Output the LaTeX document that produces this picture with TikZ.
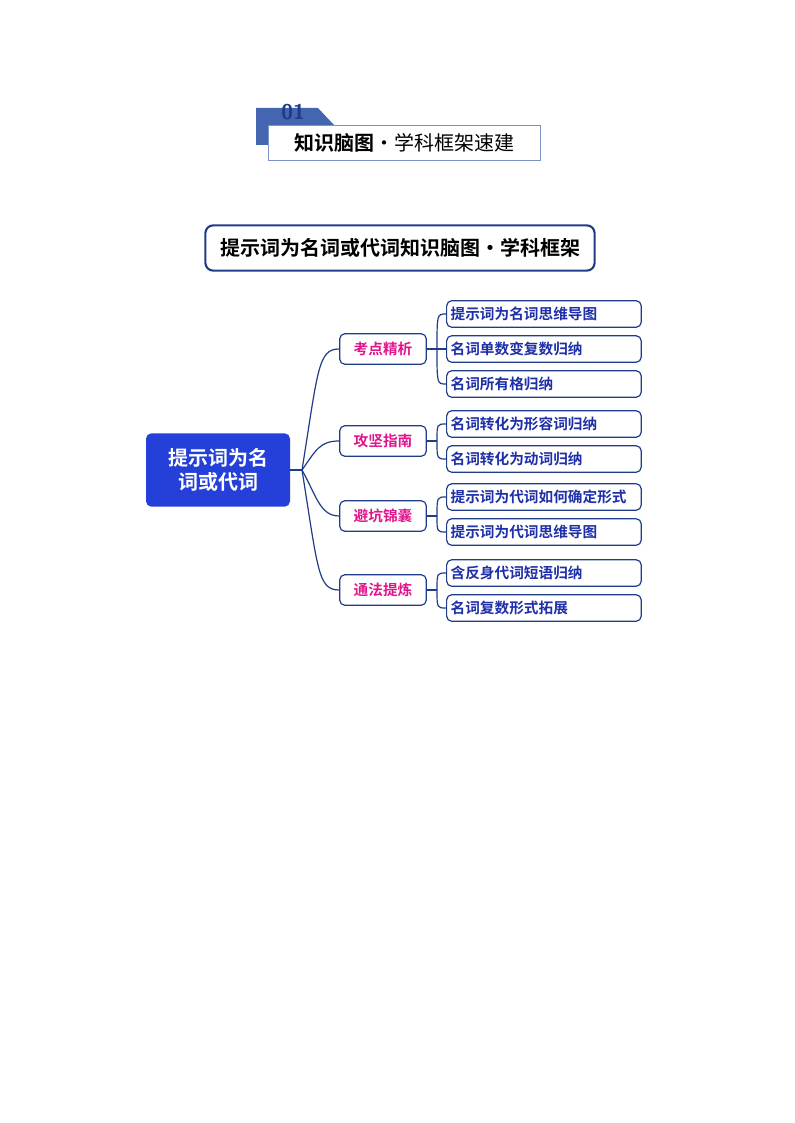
\documentclass[tikz,border=0pt]{standalone}
\usepackage{fontspec}
\setmainfont{Noto Sans CJK SC}
\newfontfamily\cjkbold{Noto Sans CJK SC Bold}
\definecolor{navy}{HTML}{1F3C88}
\definecolor{rootblue}{HTML}{2440D8}
\definecolor{leafblue}{HTML}{1E2FA8}
\definecolor{tabblue}{HTML}{4466B0}
\definecolor{pinkish}{HTML}{E0158C}
\begin{document}
\begin{tikzpicture}[x=0.75pt,y=-0.75pt,
	root/.style={fill=rootblue, text=white, rounded corners=4pt, minimum width=108pt, minimum height=55pt, align=center, font=\cjkbold\fontsize{15}{18}\selectfont},
	mid/.style={draw=navy, line width=0.9pt, rounded corners=4pt, minimum width=65pt, minimum height=23pt, text=pinkish, font=\cjkbold\fontsize{11}{13}\selectfont},
	leaf/.style={draw=navy, line width=0.9pt, rounded corners=4pt, minimum width=146pt, minimum height=20pt, text=leafblue, anchor=west, text width=140pt, align=left, inner sep=2pt, font=\cjkbold\fontsize{11}{13}\selectfont},
	link/.style={draw=navy, line width=0.9pt}]
\useasboundingbox (0,0) rectangle (794,1123);
% header
\fill[tabblue] (256,108) -- (318,108) -- (334,125) -- (268,125) -- (268,145) -- (256,145) -- cycle;
\node[text=navy, font=\sffamily\bfseries\fontsize{16}{16}\selectfont] (num) at (293,112) {01};
\node[draw=tabblue!70, fill=white, line width=0.6pt, minimum width=204pt, minimum height=26pt, inner sep=0pt, font=\fontsize{15}{16}\selectfont] (head) at (404,143) {{\cjkbold 知识脑图}·学科框架速建};
% title
\node[draw=navy, line width=1.6pt, rounded corners=6pt, minimum width=292pt, minimum height=34pt, font=\cjkbold\fontsize{15}{18}\selectfont] (title) at (400,248) {提示词为名词或代词知识脑图·学科框架};
% root
\node[root] (R) at (218,470) {提示词为名\\词或代词};
\coordinate (rj) at (302,470);
\draw[link] (R.east) -- (rj);
% middle nodes
\foreach \name/\yy/\txt in {m1/349/考点精析, m2/441/攻坚指南, m3/516/避坑锦囊, m4/590/通法提炼} {
	\node[mid] (\name) at (383,\yy) {\txt};
	\coordinate (\name j) at (437,\yy);
	\draw[link] (\name.east) -- (\name j);
}
\draw[link] (rj) .. controls (318,370) and (318,349) .. (m1.west);
\draw[link] (rj) .. controls (316,450) and (320,441) .. (m2.west);
\draw[link] (rj) .. controls (316,495) and (320,516) .. (m3.west);
\draw[link] (rj) .. controls (318,570) and (318,590) .. (m4.west);
% leaves
\foreach \name/\up/\yy/\txt in {a1/m1/314/提示词为名词思维导图, a2/m1/349/名词单数变复数归纳, a3/m1/384/名词所有格归纳,
	b1/m2/424/名词转化为形容词归纳, b2/m2/459/名词转化为动词归纳,
	c1/m3/497/提示词为代词如何确定形式, c2/m3/532/提示词为代词思维导图,
	d1/m4/573/含反身代词短语归纳, d2/m4/608/名词复数形式拓展} {
	\node[leaf] (\name) at (446,\yy) {\txt};
	\draw[link] (\up j) .. controls (437,\yy) .. (\name.west);
}
\end{tikzpicture}
\end{document}
